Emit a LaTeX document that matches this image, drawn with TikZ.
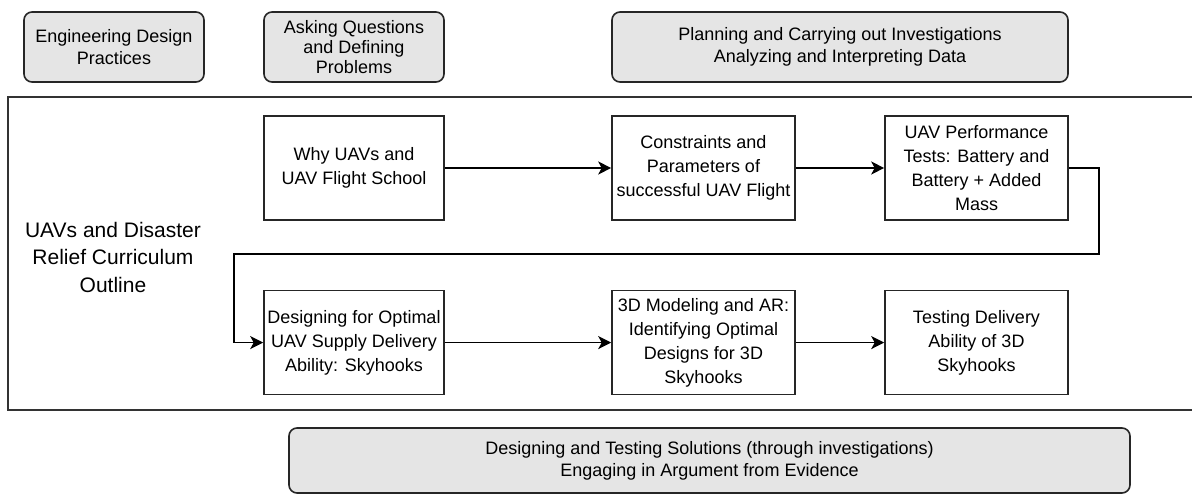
\documentclass[tikz,border=0pt]{standalone}
\usepackage{fontspec}
\setmainfont{Liberation Sans}
\usetikzlibrary{arrows.meta,positioning}

\begin{document}
\begin{tikzpicture}[x=1pt,y=-1pt,->,>={Stealth[length=13pt,width=13pt,inset=3.5pt]},
  line width=1.6pt,node distance=69pt,
  practice/.style={rectangle,rounded corners=8pt,draw=black!85,fill=black!10,
    minimum height=70pt,align=center,font=\fontsize{18}{22}\selectfont},
  lesson/.style={rectangle,draw=black!85,fill=white,minimum width=181pt,
    minimum height=104pt,align=center,font=\fontsize{18}{24}\selectfont}]

  \useasboundingbox (0,0) rectangle (1192,495);

  % practices
  \node[practice,minimum width=180pt] (eng) at (114,47) {Engineering Design\\Practices};
  \node[practice,minimum width=180pt,font=\fontsize{18}{20}\selectfont] (ask) at (354,47) {Asking Questions\\and Defining\\Problems};
  \node[practice,minimum width=456pt] (plan) at (840,47) {Planning and Carrying out Investigations\\Analyzing and Interpreting Data};

  % curriculum frame
  \draw[-,line width=1.9pt,draw=black!80] (8,97) rectangle (1200,410);
  \node[align=center,font=\fontsize{21}{27.5}\selectfont] (outline) at (113,257) {UAVs and Disaster\\Relief Curriculum\\Outline};

  \node[lesson,minimum width=180pt] (why) at (354,168) {Why UAVs and\\UAV Flight School};
  \node[lesson,minimum width=183pt] (cons) at (703.5,168) {Constraints and\\Parameters of\\successful UAV Flight};
  \node[lesson,minimum width=183pt] (perf) at (976.5,168) {UAV Performance\\Tests: Battery and\\Battery + Added\\Mass};

  \node[lesson,minimum width=180pt] (design) [below=of why] {Designing for Optimal\\UAV Supply Delivery\\Ability: Skyhooks};
  \node[lesson,minimum width=183pt] (model) [below=of cons] {3D Modeling and AR:\\Identifying Optimal\\Designs for 3D\\Skyhooks};
  \node[lesson,minimum width=183pt] (testing) [below=of perf] {Testing Delivery\\Ability of 3D\\Skyhooks};

  \coordinate (turnR) at (1099,254);
  \coordinate (turnL) at (234,254);

  \draw (why) -- (cons);
  \draw (cons) -- (perf);
  \draw (perf) -| (turnR) -- (turnL) |- (design);
  \draw (design) -- (model);
  \draw (model) -- (testing);

  % bottom practice
  \node[practice,minimum width=841pt,minimum height=65pt] (solve) at (709.5,460.5) {Designing and Testing Solutions (through investigations)\\Engaging in Argument from Evidence};
\end{tikzpicture}
\end{document}
